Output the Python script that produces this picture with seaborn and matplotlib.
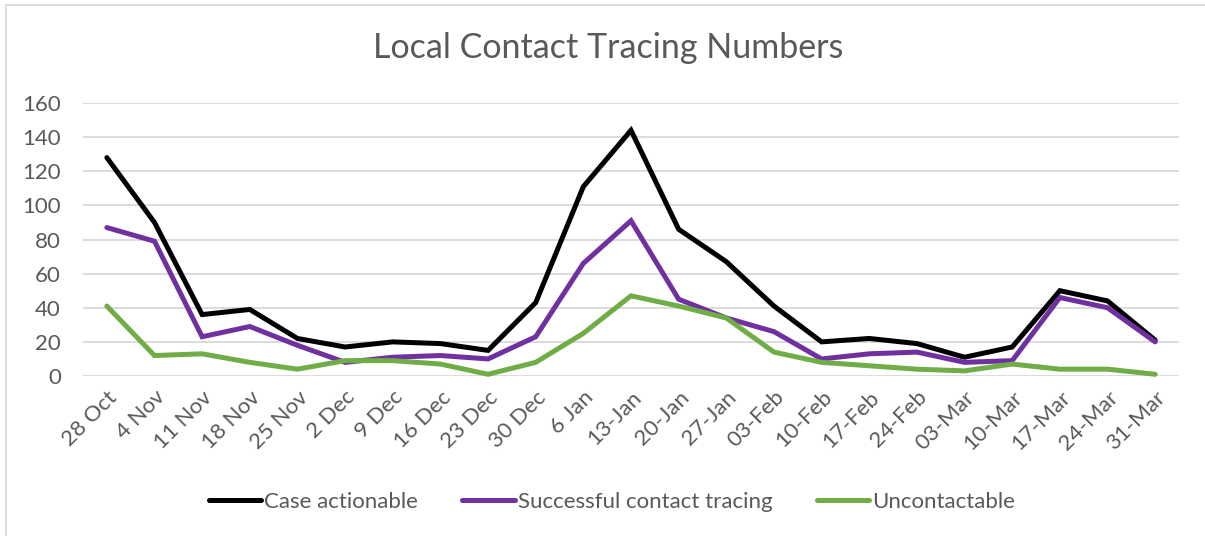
import matplotlib
matplotlib.use("Agg")
import matplotlib.pyplot as plt
import matplotlib.patches as mpatches
import seaborn as sns
import pandas as pd

# --- data ---
weeks = ["28 Oct", "4 Nov", "11 Nov", "18 Nov", "25 Nov", "2 Dec", "9 Dec", "16 Dec",
         "23 Dec", "30 Dec", "6 Jan", "13-Jan", "20-Jan", "27-Jan", "03-Feb", "10-Feb",
         "17-Feb", "24-Feb", "03-Mar", "10-Mar", "17-Mar", "24-Mar", "31-Mar"]
case_actionable = [128, 90, 36, 39, 22, 17, 20, 19, 15, 43, 111, 144, 86, 67, 41, 20,
                   22, 19, 11, 17, 50, 44, 21]
successful = [87, 79, 23, 29, 18, 8, 11, 12, 10, 23, 66, 91, 45, 34, 26, 10,
              13, 14, 8, 9, 46, 40, 20]
uncontactable = [41, 12, 13, 8, 4, 9, 9, 7, 1, 8, 25, 47, 41, 34, 14, 8,
                 6, 4, 3, 7, 4, 4, 1]
series_names = ["Case actionable", "Successful contact tracing", "Uncontactable"]
colors = ["#000000", "#7030A0", "#70AD47"]

rows = []
for name, vals in zip(series_names, [case_actionable, successful, uncontactable]):
    for i, (w, v) in enumerate(zip(weeks, vals)):
        rows.append({"pos": i, "week": w, "series": name, "value": v})
df = pd.DataFrame(rows)

sns.set_style("white")
plt.rcParams["font.family"] = ["Lato", "DejaVu Sans"]
text_col = "#595959"
lw = 3.6

fig = plt.figure(figsize=(12.05, 5.36), dpi=100)
ax = fig.add_axes([83 / 1205, 1 - 376 / 536, (1179 - 83) / 1205, (376 - 103) / 536])

sns.lineplot(data=df, x="pos", y="value", hue="series", hue_order=series_names,
             palette=colors, linewidth=lw, ax=ax, legend=False)
for ln in ax.get_lines():
    ln.set_clip_on(False)
    ln.set_solid_capstyle("round")
    ln.set_solid_joinstyle("miter")

ax.set_xlim(-0.5, len(weeks) - 0.5)
ax.set_ylim(0, 160)
ax.set_yticks(range(0, 161, 20))
ax.set_xticks(range(len(weeks)))
ax.set_xticklabels(weeks, rotation=45, ha="right", rotation_mode="anchor")
ax.tick_params(axis="both", length=0, labelsize=16, labelcolor=text_col)
ax.tick_params(axis="y", pad=16)
ax.tick_params(axis="x", pad=8)
ax.yaxis.grid(True, color="#D9D9D9", linewidth=1.3)
ax.set_axisbelow(True)
for s in ax.spines.values():
    s.set_visible(False)
ax.set_xlabel("")
ax.set_ylabel("")

fig.text(608 / 1205, 1 - 48 / 536, "Local Contact Tracing Numbers", ha="center",
         va="center", fontsize=24.5, color=text_col)

handles = [plt.Line2D([], [], color=c, linewidth=lw, solid_capstyle="round") for c in colors]
fig.legend(handles, series_names, loc="center", bbox_to_anchor=(612 / 1205, 1 - 502 / 536),
           ncol=3, frameon=False, fontsize=16, labelcolor=text_col,
           handlelength=2.35, handletextpad=0.15, columnspacing=2.0)

# chart border like the spreadsheet frame
fig.patches.append(mpatches.Rectangle((6 / 1205, -0.1), 1.2, 1 - 5 / 536 + 0.1,
                                      transform=fig.transFigure, fill=False,
                                      edgecolor="#D9D9D9", linewidth=1.3))

fig.savefig("out.png", dpi=100)
